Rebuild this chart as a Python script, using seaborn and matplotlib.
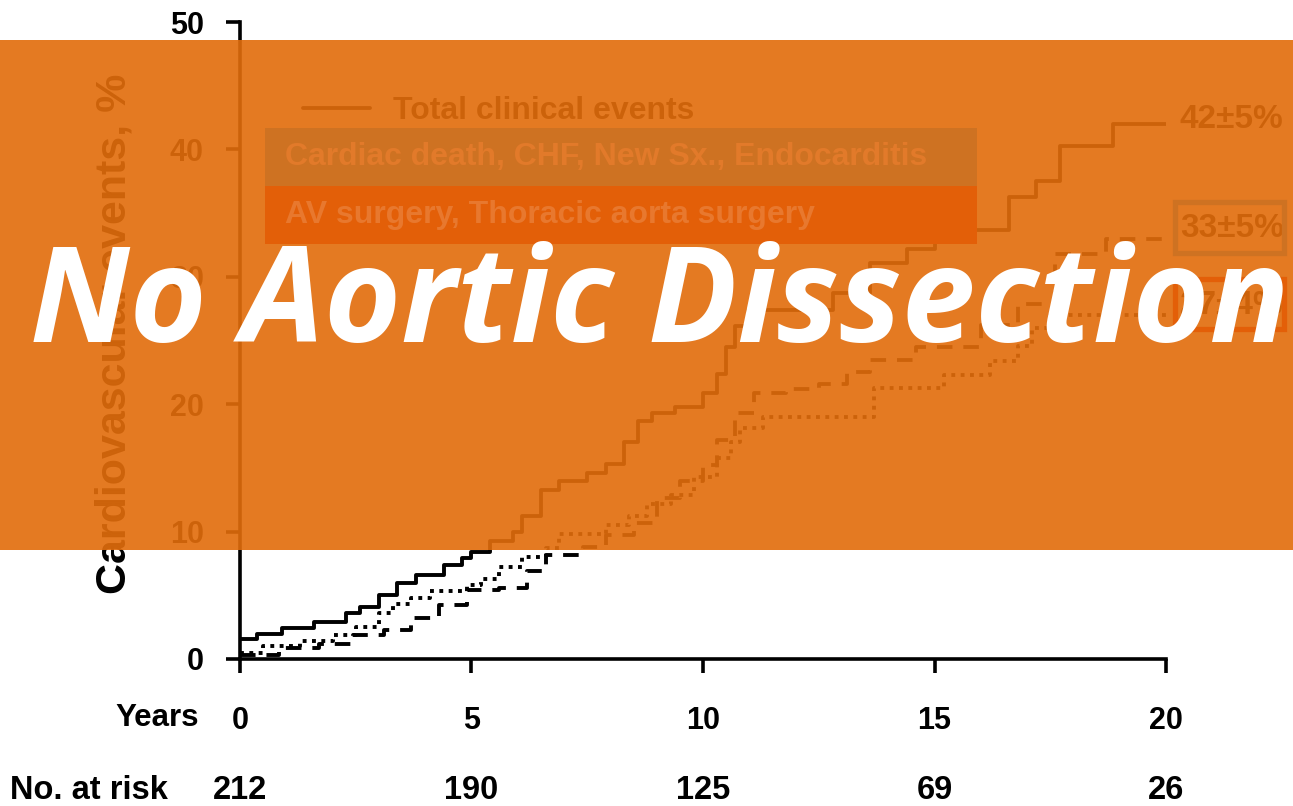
import matplotlib
matplotlib.use("Agg")
import matplotlib.pyplot as plt
from matplotlib.patches import Rectangle
from matplotlib.lines import Line2D
from matplotlib.transforms import blended_transform_factory
import pandas as pd
import seaborn as sns

# Cumulative incidence curves (years of follow-up, % of patients with events)
total_years = [0, 0.37, 0.9, 1.6, 2.3, 2.6, 3.0, 3.4, 3.8, 4.4, 4.8, 5.0, 5.4, 5.9,
               6.1, 6.5, 6.9, 7.5, 7.9, 8.3, 8.6, 8.9, 9.4, 10.0, 10.3, 10.5, 10.7,
               10.97, 12.8, 13.6, 14.4, 15.0, 16.6, 17.2, 17.7, 18.85, 20.0]
total_pct = [1.6, 2.0, 2.4, 2.9, 3.6, 4.1, 5.0, 6.0, 6.6, 7.4, 7.9, 8.4, 9.3, 10.0,
             11.2, 13.3, 14.0, 14.6, 15.3, 17.0, 18.7, 19.3, 19.8, 20.9, 22.4, 24.5, 26.1,
             27.4, 28.7, 31.1, 32.2, 33.7, 36.3, 37.5, 40.3, 42.0, 42.0]

cardiac_years = [0, 0.85, 1.7, 2.45, 3.1, 3.7, 4.3, 4.9, 5.6, 6.2, 6.6, 7.4, 7.9, 8.5,
                 9.0, 9.5, 10.0, 10.3, 10.7, 11.1, 11.8, 12.5, 13.1, 13.6, 14.6, 16.0,
                 16.8, 17.6, 18.7, 20.0]
cardiac_pct = [0.3, 0.85, 1.15, 1.9, 2.3, 3.2, 4.2, 5.4, 5.6, 6.9, 8.2, 8.8, 9.7, 10.7,
               12.6, 14.0, 15.2, 17.2, 19.3, 20.9, 21.2, 21.6, 22.5, 23.5, 24.5, 26.2,
               27.9, 31.8, 33.0, 33.0]

surgery_years = [0, 0.5, 1.3, 2.0, 2.5, 3.0, 3.3, 3.7, 4.1, 4.9, 5.2, 5.6, 6.1, 6.6,
                 6.9, 7.9, 8.4, 8.8, 9.3, 9.8, 10.3, 10.6, 10.8, 11.3, 13.7, 15.2, 16.2,
                 16.8, 17.1, 17.5, 20.0]
surgery_pct = [0.5, 1.0, 1.4, 1.9, 2.5, 3.6, 4.3, 4.8, 5.3, 5.8, 6.3, 7.2, 8.0, 8.7,
               9.8, 10.5, 11.2, 12.2, 12.9, 14.3, 15.8, 17.0, 18.1, 19.0, 21.3, 22.3, 23.4,
               24.6, 26.0, 27.0, 27.0]

series_names = ["Total clinical events",
                "Cardiac death, CHF, New Sx., Endocarditis",
                "AV surgery, Thoracic aorta surgery"]
end_labels = ["42±5%", "33±5%", "27±4%"]

risk_years = [0, 5, 10, 15, 20]
at_risk = [212, 190, 125, 69, 26]
y_ticks = [0, 10, 20, 30, 40, 50]

# colours
overlay_rgb = (0.886, 0.427, 0.047)
box_colors = ["#CE7222", "#E35F08"]
box_text_colors = ["#E27A2A", "#E8782E"]

sns.set_theme(style="ticks")
plt.rcParams["font.family"] = ["Liberation Sans", "DejaVu Sans"]
plt.rcParams["font.weight"] = "bold"

fig = plt.figure(figsize=(12.93, 8.06), dpi=100)
fig.patch.set_facecolor("white")
ax = fig.add_axes([0.1856, 0.1824, 0.7162, 0.7903])
ax.set_facecolor("white")

df = pd.concat([
    pd.DataFrame({"years": total_years, "pct": total_pct, "group": series_names[0]}),
    pd.DataFrame({"years": cardiac_years, "pct": cardiac_pct, "group": series_names[1]}),
    pd.DataFrame({"years": surgery_years, "pct": surgery_pct, "group": series_names[2]}),
], ignore_index=True)

sns.lineplot(data=df, x="years", y="pct", style="group", style_order=series_names,
             dashes={series_names[0]: "", series_names[1]: (4.0, 2.8),
                     series_names[2]: (1.0, 1.4)},
             color="black", lw=2.8, drawstyle="steps-post", estimator=None,
             sort=False, legend=False, ax=ax)

ax.set_xlim(0, 20)
ax.set_ylim(0, 50)
sns.despine(ax=ax)
for side in ["left", "bottom"]:
    ax.spines[side].set_linewidth(2.6)
    ax.spines[side].set_color("black")
ax.set_xticks(risk_years)
ax.set_xticklabels([str(v) for v in risk_years])
ax.set_yticks(y_ticks)
ax.tick_params(axis="both", length=10, width=2.6, colors="black", labelsize=22)
ax.tick_params(axis="x", pad=24)
ax.tick_params(axis="y", pad=16)
for lab in ax.get_xticklabels() + ax.get_yticklabels():
    lab.set_fontweight("bold")
ax.set_xlabel("")
ax.set_ylabel("Cardiovascular events, %", fontsize=31, fontweight="bold", color="black")
ax.yaxis.set_label_coords(-0.114, 0.51)

# legend for the solid curve
ax.legend(handles=[Line2D([], [], color="black", lw=2.8)], labels=[series_names[0]],
          loc="center left", bbox_to_anchor=(0.068, 0.860), frameon=False,
          borderpad=0, borderaxespad=0, handlelength=2.1, handletextpad=0.72,
          prop={"size": 23, "weight": "bold"}, labelcolor="black")

# end-of-curve percentages, nudged slightly above the line ends
label_lift = [3, 7, 7]
for vals, lab, lift in zip([total_pct, cardiac_pct, surgery_pct], end_labels, label_lift):
    ax.annotate(lab, xy=(20.3, vals[-1]), xytext=(0, lift), textcoords="offset points",
                ha="left", va="center", fontsize=24, fontweight="bold",
                color="black", annotation_clip=False)

# axis row title and number-at-risk table
ax.text(-0.044, -0.0926, "Years", transform=ax.transAxes, ha="right", va="center",
        fontsize=22.5, fontweight="bold", color="black")
ax.text(-0.248, -0.207, "No. at risk", transform=ax.transAxes, ha="left", va="center",
        fontsize=23.5, fontweight="bold", color="black")
risk_tr = blended_transform_factory(ax.transData, ax.transAxes)
for yr, n in zip(risk_years, at_risk):
    ax.text(yr, -0.207, str(n), transform=risk_tr, ha="center", va="center",
            fontsize=23.5, fontweight="bold", color="black")

# translucent banner across the upper part of the figure
fig.patches.append(Rectangle((0, 0.3176), 1, 0.6328, transform=fig.transFigure,
                             facecolor=overlay_rgb, alpha=0.91, edgecolor="none",
                             zorder=5))

# coloured legend bars for the two broken-line series
bar_y = [0.7692, 0.6973]
for y0, name, fc, tc in zip(bar_y, series_names[1:], box_colors, box_text_colors):
    fig.patches.append(Rectangle((0.205, y0), 0.5507, 0.072, transform=fig.transFigure,
                                 facecolor=fc, edgecolor="none", zorder=6))
    fig.text(285 / 1293, y0 + 0.036, name, ha="left", va="center", fontsize=23,
             fontweight="bold", color=tc, zorder=7)

# outlined frames around the two broken-line percentages (data units, relative
# to the end value of each curve)
frame_x0, frame_w = 20.2, 2.34
frame_below, frame_h = 1.1, 3.95
for vals, ec in zip([cardiac_pct, surgery_pct], box_colors):
    fig.patches.append(Rectangle((frame_x0, vals[-1] - frame_below), frame_w, frame_h,
                                 transform=ax.transData, facecolor="none",
                                 edgecolor=ec, linewidth=3.8, zorder=7))

fig.text(0.510, 0.5757, "No Aortic Dissection", ha="center", va="baseline",
         color="white", fontsize=95, fontstyle="italic", fontweight="bold",
         family=["Open Sans", "DejaVu Sans"], zorder=8)

fig.savefig("out.png", dpi=100)
